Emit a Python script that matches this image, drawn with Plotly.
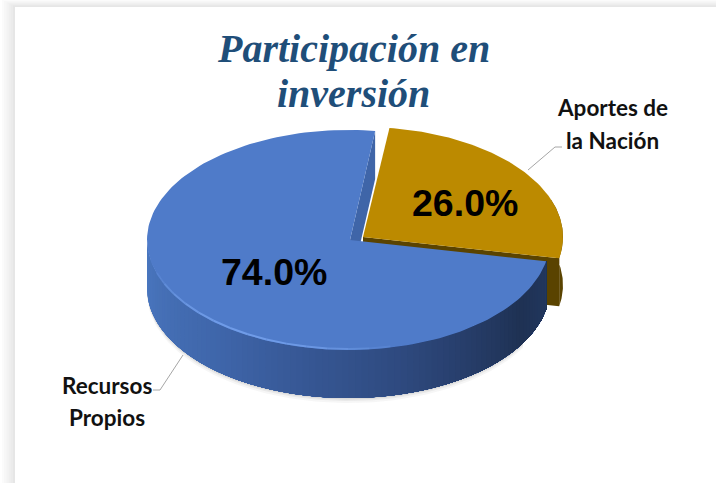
import numpy as np
import plotly.graph_objects as go

# ---- data ----
categories = ["Aportes de<br>la Nación", "Recursos<br>Propios"]
values = [26.0, 74.0]
chart_title = "Participación en<br>inversión"

# ---- look ----
BLUE_TOP, GOLD_TOP = "#4f7bc9", "#bc8a00"
GOLD_SIDE, BLUE_CUT = "#5a4300", "#3f65a8"
START = 82.4            # ellipse angle where the first slice starts
RX, RY, DEPTH = 201.5, 110, 48
GOLD_RX = 200
BLUE_APEX = (350, 240)
BLUE_C = (348.5, 240)
GOLD_C = (363, 237)

total = sum(values)
a0 = START
a1 = a0 - values[0] / total * 360   # gold: clockwise from START
a2 = a1 - values[1] / total * 360   # blue: continues round to START


def pt(c, t, dy=0, rx=RX):
    t = np.radians(t)
    return c[0] + rx * np.cos(t), c[1] - RY * np.sin(t) + dy


def arc(c, t0, t1, dy=0, n=80, rx=RX):
    ts = np.linspace(t0, t1, n)
    return pt(c, ts, dy, rx)


def hexmix(stops, f):
    xs = [s[0] for s in stops]
    rgb = [np.interp(f, xs, [int(s[1][i:i + 2], 16) for s in stops]) for i in (1, 3, 5)]
    return "rgb(%d,%d,%d)" % tuple(rgb)


fig = go.Figure()


def poly(x, y, color):
    fig.add_trace(go.Scatter(x=list(x), y=list(y), mode="lines", fill="toself", fillcolor=color,
                             line=dict(color=color, width=0),
                             hoverinfo="skip", showlegend=False))


# soft shadow under the disc
for grow, alpha in ((5, .05), (3, .07), (1.5, .09)):
    xs, ys = arc(BLUE_C, 175, 330, DEPTH + grow)
    poly(np.r_[xs, xs[::-1]], np.r_[ys, ys[::-1] - 30], f"rgba(70,70,70,{alpha})")

# far cut face of the blue slice
ex, ey = pt(BLUE_C, a0)
poly([BLUE_APEX[0], ex, ex, BLUE_APEX[0]], [BLUE_APEX[1], ey, ey + DEPTH, BLUE_APEX[1] + DEPTH], BLUE_CUT)

# gold walls and face
ex, ey = pt(GOLD_C, a1, rx=GOLD_RX)
poly([GOLD_C[0], ex, ex, GOLD_C[0]], [GOLD_C[1], ey, ey + DEPTH, GOLD_C[1] + DEPTH], GOLD_SIDE)
xu, yu = arc(GOLD_C, a1, 20, rx=GOLD_RX)
xl, yl = arc(GOLD_C, a1, 20, DEPTH, rx=GOLD_RX)
poly(np.r_[xu, xl[::-1]], np.r_[yu, yl[::-1]], GOLD_SIDE)
xg, yg = arc(GOLD_C, a0, a1, rx=GOLD_RX)
poly([GOLD_C[0], *xg, GOLD_C[0]], [GOLD_C[1], *yg, GOLD_C[1]], GOLD_TOP)

# blue outer wall, shaded in overlapping strips so no seams show
stops = [(0, "#4b78c0"), (.30, "#3f66aa"), (.62, "#2f4a80"), (.88, "#1f3254"), (1, "#22375e")]
end = a1 + 360
edges = np.linspace(180, end, 91)
for i in range(90):
    c = hexmix(stops, i / 89)
    xu, yu = arc(BLUE_C, edges[i], end, 0, 60)
    xl, yl = arc(BLUE_C, edges[i], end, DEPTH, 60)
    poly(np.r_[xu, xl[::-1]], np.r_[yu, yl[::-1]], c)

# blue face
xb, yb = arc(BLUE_C, a1, a2, n=160)
poly([BLUE_APEX[0], *xb, BLUE_APEX[0]], [BLUE_APEX[1], *yb, BLUE_APEX[1]], BLUE_TOP)

# bevel highlight along the front of the blue face, fading towards both ends
rim_edges = np.linspace(198, 282, 15)
for i in range(14):
    fade = np.sin(np.pi * (i + .5) / 14) ** .6
    xr, yr = arc(BLUE_C, rim_edges[i], rim_edges[i + 1], -1, 8)
    fig.add_trace(go.Scatter(x=xr, y=yr, mode="lines",
                             line=dict(color=f"rgba(112,156,232,{fade:.2f})", width=2),
                             hoverinfo="skip", showlegend=False))

# leader lines
for lx, ly in (([528, 555, 562], [170, 147, 147]), ([183, 160, 153], [355, 390, 390])):
    fig.add_trace(go.Scatter(x=lx, y=ly, mode="lines", line=dict(color="#a6a6a6", width=1),
                             hoverinfo="skip", showlegend=False))

title_font = dict(family="Liberation Serif", size=40, color="#1f4e79", weight="bold", style="italic")
label_font = dict(family="Lato", size=22.5, color="#111111", weight="bold")
pct_font = dict(family="Liberation Sans", size=37.5, color="#000000", weight="bold")

ann = []
for line, y in zip(chart_title.split("<br>"), (48, 93)):
    ann.append(dict(x=353, y=y, text=line, font=title_font))
for line, y in zip(categories[0].split("<br>"), (107, 140)):
    ann.append(dict(x=612, y=y, text=line, font=label_font))
for line, y in zip(categories[1].split("<br>"), (385, 417)):
    ann.append(dict(x=107, y=y, text=line, font=label_font))
ann.append(dict(x=464.5, y=203, text=f"{values[0]:.1f}%", font=pct_font))
ann.append(dict(x=274, y=272, text=f"{values[1]:.1f}%", font=pct_font))
for a in ann:
    a.update(xref="x", yref="y", showarrow=False, xanchor="center", yanchor="middle")

# page frame: soft grey band at the top and left of the white card
shapes = []
for i, col in enumerate(["#fbfbfb", "#f7f7f7", "#f3f3f3", "#efefef", "#ebebeb", "#e6e6e6"]):
    shapes.append(dict(type="rect", layer="below", xref="x", yref="y", x0=2 + i * 2.2, y0=i * 1.1, x1=716, y1=483,
                       fillcolor=col, line_width=0))
shapes.append(dict(type="rect", layer="below", xref="x", yref="y", x0=15, y0=7, x1=716, y1=483,
                   fillcolor="#ffffff", line_width=0))

fig.update_layout(
    width=716, height=483, margin=dict(l=0, r=0, t=0, b=0),
    paper_bgcolor="#ffffff", plot_bgcolor="rgba(0,0,0,0)",
    xaxis=dict(range=[0, 716], visible=False, fixedrange=True),
    yaxis=dict(range=[483, 0], visible=False, fixedrange=True),
    annotations=ann, shapes=shapes, showlegend=False,
)
fig.write_html("out.html", config=dict(displayModeBar=False),
               post_script="document.body.style.margin='0';document.documentElement.style.overflow='hidden';")
